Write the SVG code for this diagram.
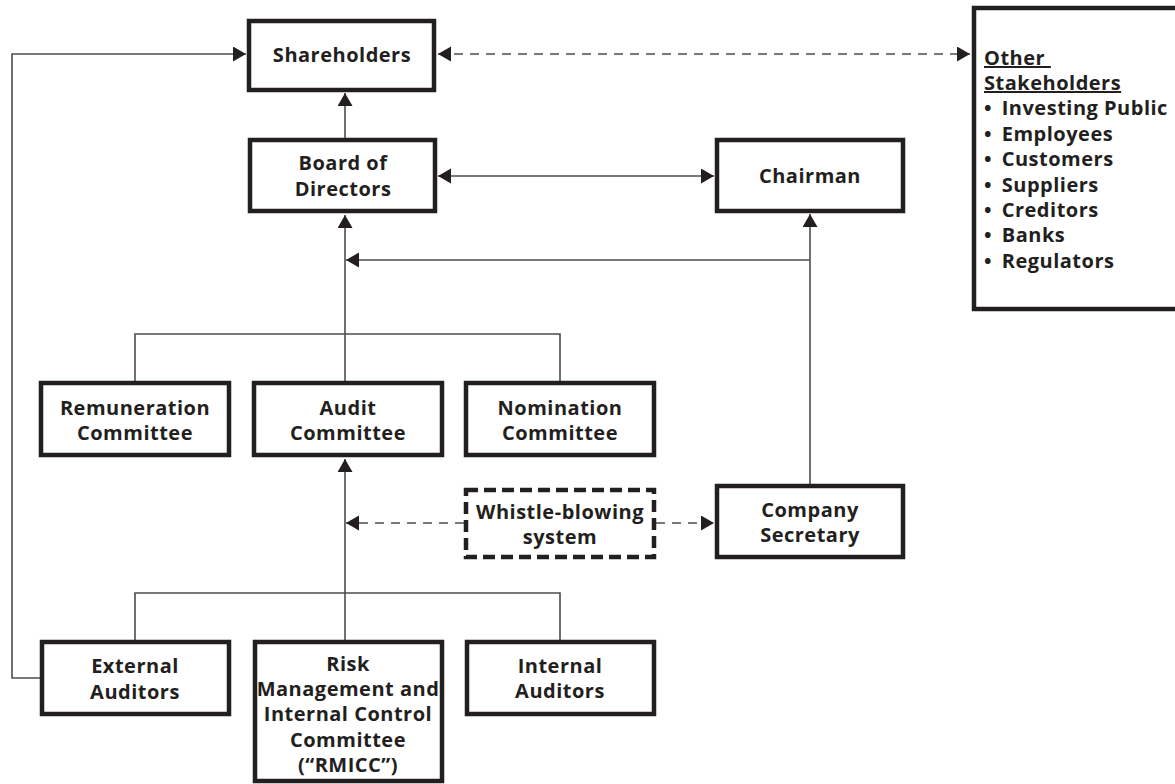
<svg xmlns="http://www.w3.org/2000/svg" width="1175" height="784" viewBox="0 0 1175 784">
<defs>
<style>
.box{fill:#fff;stroke:#231f20;stroke-width:4.5}
.dbox{fill:#fff;stroke:#231f20;stroke-width:4.5;stroke-dasharray:12 6}
.t{font-family:"Open Sans","Liberation Sans",sans-serif;font-weight:700;font-size:20px;fill:#231f20;text-anchor:middle;letter-spacing:0.5px}
.l{font-family:"Open Sans","Liberation Sans",sans-serif;font-weight:700;font-size:20px;fill:#231f20;letter-spacing:0.5px}
.c{fill:none;stroke:#4d4d4f;stroke-width:1.6}
.d{fill:none;stroke:#4d4d4f;stroke-width:1.6;stroke-dasharray:9 7}
.a{marker-end:url(#ah)}
.b{marker-start:url(#ah);marker-end:url(#ah)}
</style>
<marker id="ah" markerUnits="userSpaceOnUse" markerWidth="14" markerHeight="16" refX="13" refY="7.5" orient="auto-start-reverse">
<path d="M0,0 L13,7.5 L0,15 z" fill="#231f20"/>
</marker>
</defs>
<rect width="1175" height="784" fill="#fff"/>
<g id="connectors">
<path class="c a" d="M40,678 H12 V54 H246"/>
<path class="c a" d="M345,138 V93"/>
<path class="c b" d="M438,176 H714"/>
<path class="c a" d="M810,484 V214"/>
<path class="c a" d="M810,260 H346"/>
<path class="c a" d="M345,381 V215"/>
<path class="c" d="M135,381 V334 H560 V381"/>
<path class="c a" d="M345,640 V459"/>
<path class="c" d="M135,640 V593 H560 V640"/>
<path class="d a" d="M464,523 H346"/>
<path class="d a" d="M656,523 H714"/>
<path class="d b" d="M438,54 H970"/>
</g>
<g id="shareholders"><rect class="box" x="249" y="21" width="185" height="69"/><text class="t" x="342" y="62">Shareholders</text></g>
<g id="board"><rect class="box" x="250" y="140" width="185" height="71"/><text class="t" x="343" y="170">Board of<tspan x="343" dy="26">Directors</tspan></text></g>
<g id="chairman"><rect class="box" x="717" y="140" width="186" height="71"/><text class="t" x="810" y="183">Chairman</text></g>
<g id="other-stakeholders"><rect class="box" x="974" y="8" width="220" height="301"/>
<text class="l" x="984" y="65"><tspan text-decoration="underline" xml:space="preserve">Other </tspan><tspan x="984" dy="25" text-decoration="underline">Stakeholders</tspan><tspan x="984" dy="25.4">•<tspan dx="4"> Investing Public</tspan></tspan><tspan x="984" dy="25.4">•<tspan dx="4"> Employees</tspan></tspan><tspan x="984" dy="25.4">•<tspan dx="4"> Customers</tspan></tspan><tspan x="984" dy="25.4">•<tspan dx="4"> Suppliers</tspan></tspan><tspan x="984" dy="25.4">•<tspan dx="4"> Creditors</tspan></tspan><tspan x="984" dy="25.4">•<tspan dx="4"> Banks</tspan></tspan><tspan x="984" dy="25.4">•<tspan dx="4"> Regulators</tspan></tspan></text>
</g>
<g id="remuneration"><rect class="box" x="41" y="383" width="188" height="72"/><text class="t" x="135" y="415">Remuneration<tspan x="135" dy="25">Committee</tspan></text></g>
<g id="audit"><rect class="box" x="254" y="383" width="188" height="72"/><text class="t" x="348" y="415">Audit<tspan x="348" dy="25">Committee</tspan></text></g>
<g id="nomination"><rect class="box" x="466" y="383" width="188" height="72"/><text class="t" x="560" y="415">Nomination<tspan x="560" dy="25">Committee</tspan></text></g>
<g id="whistle"><rect class="dbox" x="466" y="490" width="188" height="67"/><text class="t" x="560" y="519">Whistle-blowing<tspan x="560" dy="25">system</tspan></text></g>
<g id="secretary"><rect class="box" x="717" y="486" width="186" height="71"/><text class="t" x="810" y="517">Company<tspan x="810" dy="25">Secretary</tspan></text></g>
<g id="external"><rect class="box" x="42" y="642" width="187" height="72"/><text class="t" x="135" y="673">External<tspan x="135" dy="26">Auditors</tspan></text></g>
<g id="rmicc"><rect class="box" x="255" y="642" width="187" height="139"/><text class="t" x="348" y="671">Risk<tspan x="348" dy="25">Management and</tspan><tspan x="348" dy="25">Internal Control</tspan><tspan x="348" dy="25.5">Committee</tspan><tspan x="348" dy="25">(“RMICC”)</tspan></text></g>
<g id="internal"><rect class="box" x="467" y="642" width="187" height="72"/><text class="t" x="560" y="673">Internal<tspan x="560" dy="25">Auditors</tspan></text></g>
</svg>
